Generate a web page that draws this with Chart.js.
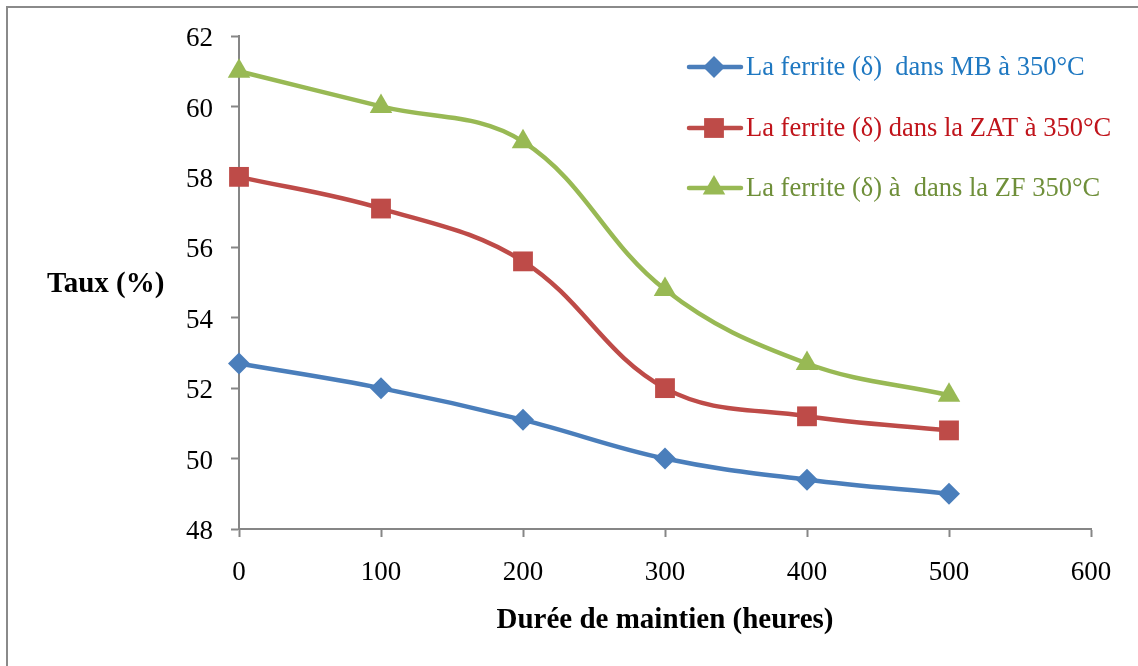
<!DOCTYPE html>
<html>
<head>
<meta charset="utf-8">
<script src="https://cdn.jsdelivr.net/npm/chart.js@4/dist/chart.umd.min.js"></script>
<style>
  html, body { margin: 0; padding: 0; background: #fff; }
  #wrap { position: relative; width: 1138px; height: 666px; overflow: hidden; }
  #frame { position: absolute; left: 6px; top: 6px; width: 1140px; height: 670px; border: 2px solid #8a8a8a; box-sizing: border-box; pointer-events: none; }
</style>
</head>
<body>
<div id="wrap">
  <canvas id="c" width="1138" height="666"></canvas>
  <div id="frame"></div>
</div>
<script>
// Holding time (hours) and delta-ferrite content (%) at 350 °C
const hours = [0, 100, 200, 300, 400, 500];
const ferriteMB  = [52.7, 52.0, 51.1, 50.0, 49.4, 49.0];
const ferriteZAT = [58.0, 57.1, 55.6, 52.0, 51.2, 50.8];
const ferriteZF  = [61.0, 60.0, 59.0, 54.8, 52.7, 51.8];
const seriesNames = [
  'La ferrite (\u03b4)  dans MB \u00e0 350\u00b0C',
  'La ferrite (\u03b4) dans la ZAT \u00e0 350\u00b0C',
  'La ferrite (\u03b4) \u00e0  dans la ZF 350\u00b0C'
];
const xTitle = 'Dur\u00e9e de maintien (heures)';
const yTitle = 'Taux (%)';

const FONT = '"Liberation Serif", "Times New Roman", serif';
const lineColors = ['#4a7ebb', '#be4b48', '#98b954'];
const textColors = ['#1f78c1', '#c0141b', '#6f8f3a'];
const shapes = ['rectRot', 'rect', 'triangle'];
const radii = [11, 14, 13];

const toPts = arr => arr.map((v, i) => ({ x: hours[i], y: v }));
const seriesData = [ferriteMB, ferriteZAT, ferriteZF];

const datasets = seriesData.map((d, i) => ({
  label: seriesNames[i],
  data: toPts(d),
  borderColor: lineColors[i],
  backgroundColor: lineColors[i],
  borderWidth: 4.5,
  tension: 0.38,
  clip: false,
  pointStyle: shapes[i],
  pointRadius: radii[i],
  pointBorderWidth: 0,
  pointBackgroundColor: lineColors[i],
  pointHoverRadius: radii[i]
}));

// Custom legend and axis titles placed around the plot area
const decorations = {
  id: 'decorations',
  afterDraw(chart) {
    const ctx = chart.ctx;
    ctx.save();
    // axis titles
    ctx.fillStyle = '#000';
    ctx.font = 'bold 29px ' + FONT;
    ctx.textBaseline = 'middle';
    ctx.textAlign = 'left';
    ctx.fillText(yTitle, 47, 285);
    ctx.textAlign = 'center';
    ctx.fillText(xTitle, 665, 621);

    // legend
    const rows = [67, 128, 188];
    chart.data.datasets.forEach((ds, i) => {
      const y = rows[i];
      const cx = 714;
      ctx.strokeStyle = ds.borderColor;
      ctx.lineWidth = 4.5;
      ctx.lineCap = 'round';
      ctx.beginPath();
      ctx.moveTo(689, y);
      ctx.lineTo(741, y);
      ctx.stroke();
      ctx.fillStyle = ds.borderColor;
      const r = ds.pointRadius;
      ctx.beginPath();
      if (ds.pointStyle === 'rectRot') {
        ctx.moveTo(cx, y - r); ctx.lineTo(cx + r, y); ctx.lineTo(cx, y + r); ctx.lineTo(cx - r, y);
      } else if (ds.pointStyle === 'rect') {
        const s = r * Math.SQRT1_2;
        ctx.rect(cx - s, y - s, 2 * s, 2 * s);
      } else {
        ctx.moveTo(cx, y - r); ctx.lineTo(cx + r * 0.866, y + r * 0.5); ctx.lineTo(cx - r * 0.866, y + r * 0.5);
      }
      ctx.closePath();
      ctx.fill();
      ctx.fillStyle = textColors[i];
      ctx.font = '26.5px ' + FONT;
      ctx.textAlign = 'left';
      ctx.textBaseline = 'middle';
      ctx.fillText(ds.label, 746, y + 1);
    });
    ctx.restore();
  }
};

new Chart(document.getElementById('c'), {
  type: 'line',
  data: { datasets },
  options: {
    responsive: false,
    animation: false,
    events: [],
    layout: { padding: { left: 0, right: 47, top: 36, bottom: 0 } },
    plugins: { legend: { display: false }, tooltip: { enabled: false } },
    scales: {
      x: {
        type: 'linear',
        min: 0, max: 600,
        ticks: { stepSize: 100, color: '#000', font: { family: FONT, size: 27 }, padding: 20, maxRotation: 0 },
        grid: { display: true, drawOnChartArea: false, tickLength: 8, tickColor: '#868686', tickWidth: 2 },
        border: { color: '#868686', width: 2 },
        afterFit(scale) { scale.height = 137; }
      },
      y: {
        min: 48, max: 62,
        ticks: { stepSize: 2, color: '#000', font: { family: FONT, size: 27 }, padding: 18, labelOffset: 3 },
        grid: { display: true, drawOnChartArea: false, tickLength: 8, tickColor: '#868686', tickWidth: 2 },
        border: { color: '#868686', width: 2 },
        afterFit(scale) { scale.width = 239; }
      }
    }
  },
  plugins: [decorations]
});
</script>
</body>
</html>
